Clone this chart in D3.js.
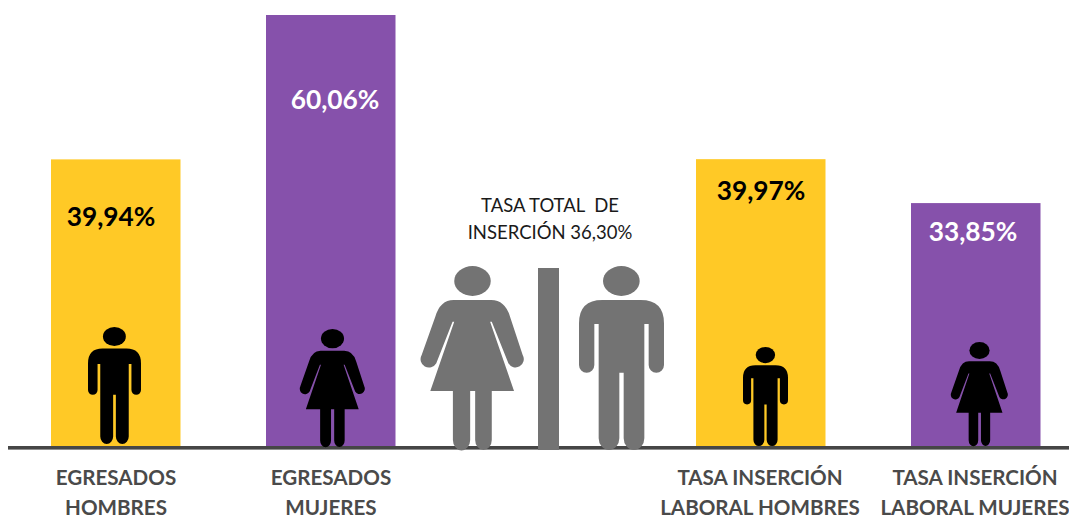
<!DOCTYPE html>
<html><head><meta charset="utf-8">
<style>html,body{margin:0;padding:0;background:#fff}svg{display:block}text{font-family:Lato,"Noto Sans",sans-serif}</style>
<script src="https://cdn.jsdelivr.net/npm/d3@7"></script></head>
<body><svg id="c" width="1069" height="518"></svg>
<script>
const categories = ["EGRESADOS HOMBRES","EGRESADOS MUJERES","TOTAL","TASA INSERCIÓN LABORAL HOMBRES","TASA INSERCIÓN LABORAL MUJERES"];
const barCategories = ["EGRESADOS HOMBRES","EGRESADOS MUJERES","TASA INSERCIÓN LABORAL HOMBRES","TASA INSERCIÓN LABORAL MUJERES"];
const values = [39.94, 60.06, 39.97, 33.85];
const valueLabels = ["39,94%","60,06%","39,97%","33,85%"];
const axisLines = [["EGRESADOS","HOMBRES"],["EGRESADOS","MUJERES"],["TASA INSERCIÓN","LABORAL HOMBRES"],["TASA INSERCIÓN","LABORAL MUJERES"]];
const centerLines = ["TASA TOTAL  DE","INSERCIÓN 36,30%"];
const genders = ["m","f","m","f"];

const YELLOW="#FFC926", PURPLE="#8651AB", GREY="#737373", DARK="#464646";
const svg=d3.select("#c");
const x=d3.scaleBand().domain(categories).range([51,1041]).paddingInner(85/215).paddingOuter(0);
const y=d3.scaleLinear().domain([0,60.06]).range([446,15]);

const manPath="M0,172 Q0,102 70,102 H185 Q255,102 255,172 V297 A23,23 0 0 1 209,297 V174 H196 V517 A31,35 0 0 1 134,517 V320 H121 V517 A31,35 0 0 1 59,517 V174 H46 V297 A23,23 0 0 1 0,297 Z";
const womanPath="M98,102 H211 Q253,102 268,152 L306,267 A24,24 0 0 1 263,292 L213,167 L208,167 L280,375 H213 V522 A25,30 0 0 1 163,522 V375 H148 V522 A25,30 0 0 1 96,522 V375 H28 L100,167 H95 L46,292 A24,24 0 0 1 2,267 L43,152 Q58,102 98,102 Z";
const icon={m:{w:255,h:552,hx:127,d:manPath},f:{w:310,h:552,hx:155,d:womanPath}};
function drawIcon(g,kind,left,top,w,h,fill){
  const s=icon[kind];
  const t=g.append("g").attr("transform",`translate(${left},${top}) scale(${w/s.w},${h/s.h})`).attr("fill",fill);
  t.append("ellipse").attr("cx",s.hx).attr("cy",45).attr("rx",55).attr("ry",45);
  t.append("path").attr("d",s.d);
}

svg.selectAll("rect.bar").data(values).join("rect").attr("class","bar")
  .attr("x",(d,i)=>x(barCategories[i])).attr("width",x.bandwidth()-0.5)
  .attr("y",d=>y(d)).attr("height",d=>y(0)-y(d))
  .attr("fill",(d,i)=>genders[i]==="m"?YELLOW:PURPLE);

// axis baseline
svg.append("rect").attr("x",8).attr("y",y(0)).attr("width",1061).attr("height",3.6).attr("fill",DARK);

// small pictograms inside the bars
const icons=svg.append("g");
const iconBox=[[53,117,-3,-119],[65,118,0,-117],[45,99,3,-99],[57,104,2,-104]];
genders.forEach((g,i)=>{
  const [w,h,dx,dy]=iconBox[i];
  const cx=x(barCategories[i])+x.bandwidth()/2;
  drawIcon(icons,g,cx-w/2+dx+1.5,y(0)+dy,w,h,"#000");
});

// centre pictogram
const ctr=svg.append("g");
drawIcon(ctr,"f",421,266,103,184,GREY);
drawIcon(ctr,"m",579,266,85,184,GREY);
const cbar=x("TOTAL")+x.bandwidth()/2;
ctr.append("rect").attr("x",cbar-8).attr("y",268).attr("width",21).attr("height",182).attr("fill",GREY);

centerLines.forEach((t,i)=>svg.append("text").attr("x",550).attr("y",212+i*27)
  .attr("text-anchor","middle").attr("font-size",18.5).attr("fill","#1a1a1a").style("white-space","pre").text(t));

// value labels
const labelDy=[67,94,41,38], labelDx=[-5,4,0,-3];
svg.selectAll("text.val").data(valueLabels).join("text").attr("class","val")
  .attr("x",(d,i)=>x(barCategories[i])+x.bandwidth()/2+labelDx[i])
  .attr("y",(d,i)=>y(values[i])+labelDy[i])
  .attr("text-anchor","middle").attr("font-size",26.3).attr("font-weight",700)
  .attr("fill",(d,i)=>genders[i]==="m"?"#000":"#fff").text(d=>d);

// category labels
axisLines.forEach((ls,i)=>ls.forEach((t,j)=>{
  svg.append("text").attr("x",x(barCategories[i])+x.bandwidth()/2-(i>=2?1:0)).attr("y",485+j*30)
    .attr("text-anchor","middle").attr("font-size",20.6).attr("font-weight",700)
    .attr("fill","#4a4a4a").text(t);
}));
</script></body></html>
